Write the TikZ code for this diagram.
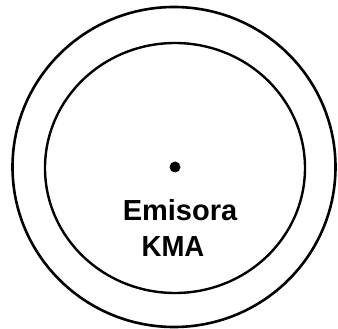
\documentclass[tikz,border=0pt]{standalone}
\usepackage{fontspec}
\setmainfont{Liberation Sans}
\begin{document}
\begin{tikzpicture}[x=1pt,y=-1pt]
\useasboundingbox (0,0) rectangle (338,329);
\node[circle, fill = black, inner sep = 0pt, minimum size = 11pt](P0) at (175,167){};
\draw[line width = 2.6pt] (174,167) ellipse (161.5 and 160);
\draw[line width = 2.4pt] (175,168) ellipse (130 and 125);
\node[anchor = base, font = \bfseries\fontsize{29}{35}\selectfont](P1) at (180,221){Emisora};
\node[anchor = base, xscale = 0.95, font = \bfseries\fontsize{29}{35}\selectfont](P2) at (173,256){KMA};
\end{tikzpicture}
\end{document}
